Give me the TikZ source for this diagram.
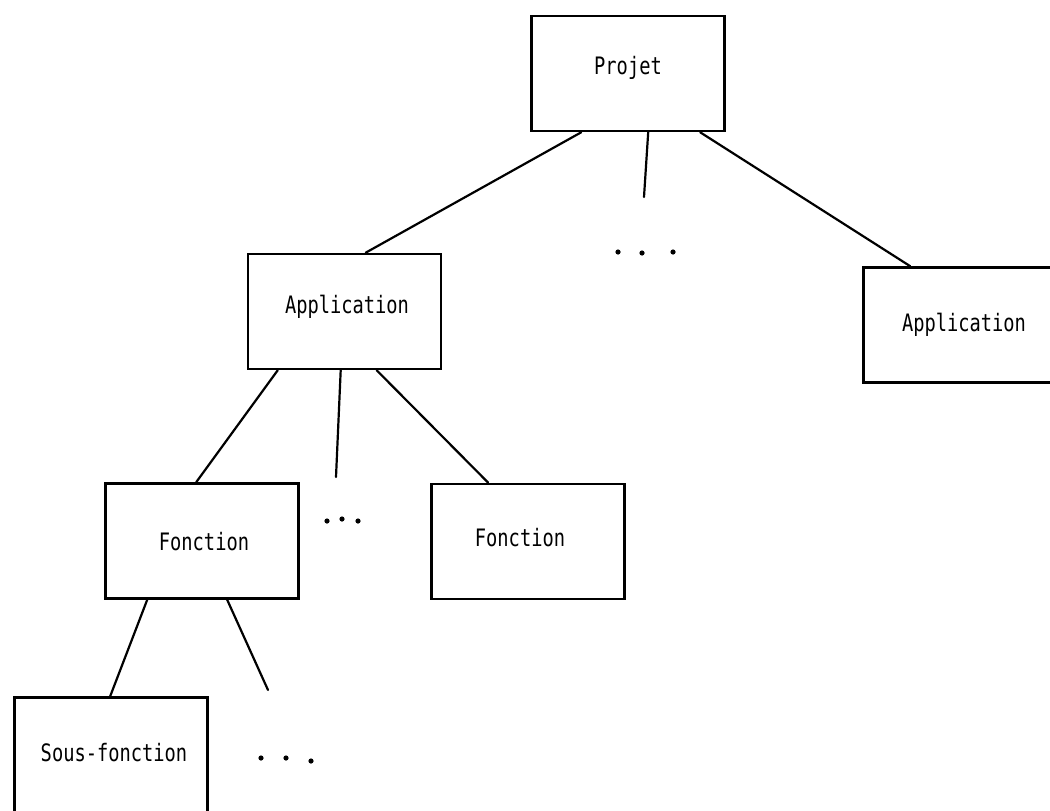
\documentclass[tikz,border=0pt]{standalone}
\usepackage{fontspec}
\newfontfamily\plotterfont[FakeStretch=0.78]{DejaVu Sans Mono}
\usetikzlibrary{calc}

\tikzset{
  box/.style={draw=black, line width=2.6pt, rectangle, inner sep=0pt,
              minimum width=#1, minimum height=115pt},
  box/.default=193pt,
  tag/.style={font=\plotterfont\fontsize{24}{28}\selectfont, inner sep=0pt},
  edge/.style={draw=black, line width=2.2pt, line cap=round},
  dot/.style={fill=black}
}

\begin{document}
\begin{tikzpicture}[x=1pt,y=-1pt]
  % page frame
  \useasboundingbox (0,0) rectangle (1050,811);
  \fill[white] (0,0) rectangle (1050,811);

  % boxes of the tree
  \node[box] (projet) at (628,73.5) {};
  \node[tag] at (628,68) {Projet};

  \node[box] (appA) at (344.5,311.5) {};
  \node[tag] at (347,307) {Application};

  \node[box] (appB) at (960,325) {};
  \node[tag] at (964,325) {Application};

  \node[box] (fctA) at (202,541) {};
  \node[tag] at (204,542) {Fonction};

  \node[box] (fctB) at (528,541.5) {};
  \node[tag] at (520,538) {Fonction};

  \node[box] (sfct) at (111,755) {};
  \node[tag] at (114,753) {Sous-fonction};

  % open ends of the partial branches
  \coordinate (projetMore) at (644,197);
  \coordinate (appMore) at (336,477);
  \coordinate (fctMore) at (268,690);

  % branches from Projet
  \draw[edge] ($(projet.south west)+(51,0)$) -- ($(appA.north west)+(119,0)$);
  \draw[edge] ($(projet.south west)+(118,0)$) -- (projetMore);
  \draw[edge] ($(projet.south west)+(170,0)$) -- ($(appB.north west)+(48,0)$);

  % branches from the first Application
  \draw[edge] ($(appA.south west)+(31,0)$) -- ($(fctA.north west)+(92,0)$);
  \draw[edge] ($(appA.south west)+(94,0)$) -- (appMore);
  \draw[edge] ($(appA.south west)+(130,0)$) -- ($(fctB.north west)+(58,0)$);

  % branches from the first Fonction
  \draw[edge] ($(fctA.south west)+(43,0)$) -- ($(sfct.north west)+(97,0)$);
  \draw[edge] ($(fctA.south west)+(123,0)$) -- (fctMore);

  % ellipses for the omitted siblings
  \foreach \p in {(618,252),(642,253),(673,252),
                  (327,521),(342,519),(358,521),
                  (261,758),(286,758),(311,761)}
    \fill[dot] \p circle (2.6pt);
\end{tikzpicture}
\end{document}
